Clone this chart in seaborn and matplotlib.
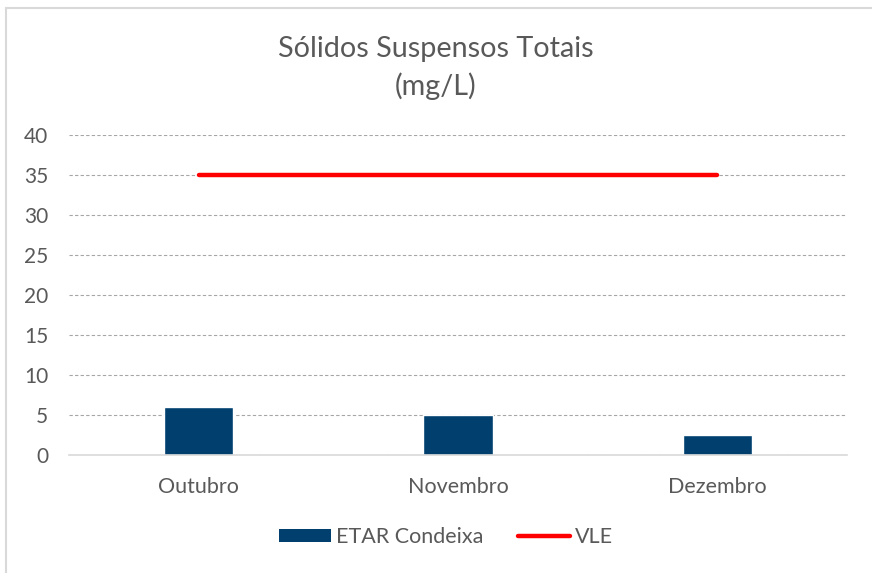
import numpy as np
import pandas as pd
import seaborn as sns
import matplotlib.pyplot as plt
from matplotlib.lines import Line2D
from matplotlib.patches import Patch

# Data
months = ['Outubro', 'Novembro', 'Dezembro']
etar_condeixa = [6, 5, 2.5]
vle = [35, 35, 35]
y_ticks = [0, 5, 10, 15, 20, 25, 30, 35, 40]

df = pd.DataFrame({'Mes': months, 'ETAR Condeixa': etar_condeixa, 'VLE': vle})

sns.set_style('white')
plt.rcParams['font.family'] = ['Lato', 'DejaVu Sans']

text_color = '#595959'
bar_color = '#003f6e'
line_color = '#ff0000'

fig = plt.figure(figsize=(8.72, 5.73), dpi=100)
ax = fig.add_axes([69 / 872, 1 - 455 / 573, (847 - 69) / 872, (455 - 135) / 573])

sns.barplot(data=df, x='Mes', y='ETAR Condeixa', color=bar_color, width=0.267,
            saturation=1, ax=ax, zorder=3)
sns.lineplot(x=np.arange(len(months)), y=df['VLE'], color=line_color, linewidth=3.2,
             solid_capstyle='round', ax=ax, zorder=4)

ax.set_xlim(-0.5, 2.5)
ax.set_ylim(0, 40)
ax.set_yticks(y_ticks)
ax.set_xlabel('')
ax.set_ylabel('')
ax.yaxis.grid(True, linestyle=(0, (3, 2)), color='#a6a6a6', linewidth=0.8)
ax.set_axisbelow(True)
for side in ['top', 'right', 'left']:
    ax.spines[side].set_visible(False)
ax.spines['bottom'].set_color('#d9d9d9')
ax.spines['bottom'].set_linewidth(1.2)
ax.spines['bottom'].set_zorder(5)
ax.tick_params(axis='both', length=0, colors=text_color)
ax.tick_params(axis='y', pad=15, labelsize=15)
ax.tick_params(axis='x', pad=16, labelsize=15.5)

fig.text(0.5, 1 - 68 / 573, 'Sólidos Suspensos Totais\n(mg/L)', ha='center', va='center',
         fontsize=20.7, color=text_color, linespacing=1.45)

handles = [Patch(facecolor=bar_color, edgecolor='none'),
           Line2D([0], [0], color=line_color, linewidth=3.2, solid_capstyle='round')]
fig.legend(handles, ['ETAR Condeixa', 'VLE'], loc='center', bbox_to_anchor=(0.512, 1 - 537 / 573),
           ncol=2, frameon=False, fontsize=15.5, labelcolor=text_color, handlelength=2.4,
           handleheight=0.55, handletextpad=0.25, columnspacing=1.6)

# outer chart border (top and left edges visible in the crop)
fig.add_artist(Line2D([6 / 872, 6 / 872], [0, 1 - 8 / 573], transform=fig.transFigure,
                      color='#d9d9d9', linewidth=1.5))
fig.add_artist(Line2D([6 / 872, 1], [1 - 8 / 573, 1 - 8 / 573], transform=fig.transFigure,
                      color='#d9d9d9', linewidth=1.5))

fig.savefig('out.png', dpi=100)
